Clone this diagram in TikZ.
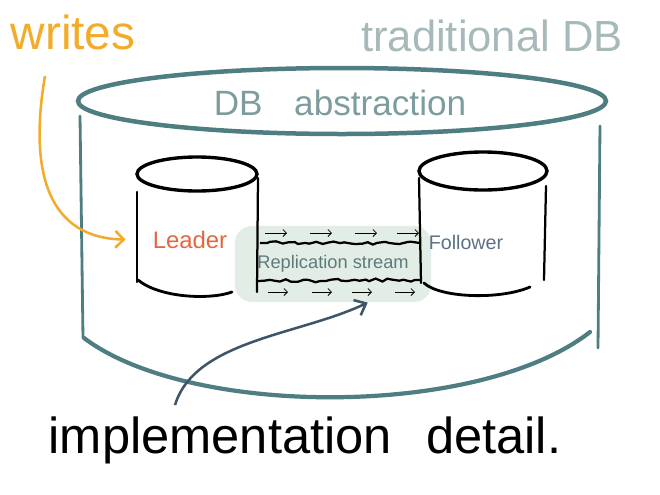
\documentclass[tikz,border=0pt]{standalone}
\usepackage{fontspec}
\setmainfont{Liberation Sans}
\usetikzlibrary{arrows.meta,decorations.pathmorphing}

\definecolor{writesorange}{HTML}{F2AC2A}
\definecolor{tradgray}{HTML}{A7B9B9}
\definecolor{dbteal}{HTML}{4F7E82}
\definecolor{abstrgray}{HTML}{7D9C9E}
\definecolor{leaderred}{HTML}{E2673F}
\definecolor{followerblue}{HTML}{5C7087}
\definecolor{streamgreen}{HTML}{E2EEE5}
\definecolor{streamtext}{HTML}{5E7A7C}
\definecolor{arrowslate}{HTML}{3E5569}

\tikzset{
  outerdb/.style={dbteal, line cap=round},
  dbcan/.style={black, line cap=round},
  wavy/.style={black, line width=1.6pt, decorate,
    decoration={random steps, segment length=4pt, amplitude=1.2pt}},
  tinyarrow/.style={black, line width=0.6pt, -{Straight Barb[length=2.5pt]}},
}

\begin{document}
\begin{tikzpicture}[x=0.025cm, y=-0.025cm, style=thick]
    \useasboundingbox (0,0) rectangle (660,495);

    % the traditional DB
    \draw[outerdb, line width=3.2pt] (342,101) ellipse (264 and 33);
    \draw[outerdb, line width=2pt] (80,116) -- (83,338);
    \draw[outerdb, line width=2pt] (600,126) -- (598,348);
    \draw[outerdb, line width=3pt] (84,338) .. controls (190,418) and (480,418) .. (590,332);

    % replication stream
    \node[fill=streamgreen, rounded corners=12pt, minimum width=4.9cm,
      minimum height=1.9cm, text=streamtext,
      font=\fontsize{13}{15}\selectfont] (stream) at (333,264) {Replication stream};
    \draw[wavy] (260,243) -- (420,243);
    \draw[wavy] (258,281) -- (420,280);
    \foreach \x in {265,310,355,397}{
        \draw[tinyarrow] (\x,233) -- ++(22,0);
      }
    \foreach \x in {268,312,352,395}{
        \draw[tinyarrow] (\x,292) -- ++(20,0);
      }

    % leader and follower
    \draw[dbcan, line width=2.4pt] (197,174) ellipse (60 and 17);
    \draw[dbcan, line width=1.6pt] (137,192) -- (137,282);
    \draw[dbcan, line width=1.6pt] (258,178) -- (257,292);
    \draw[dbcan, line width=2pt] (138,280) .. controls (160,298) and (210,300) .. (232,292);

    \draw[dbcan, line width=2.4pt] (483,171) ellipse (64 and 19);
    \draw[dbcan, line width=1.6pt] (419,178) -- (421,283);
    \draw[dbcan, line width=1.6pt] (546,186) -- (544,280);
    \draw[dbcan, line width=2pt] (424,283) .. controls (440,298) and (500,300) .. (530,287);

    \node[text=writesorange, font=\fontsize{34}{36}\selectfont] (writes) at (73,32) {writes};
    \node[text=tradgray, font=\fontsize{31}{33}\selectfont] (traditional) at (492,36) {traditional DB};
    \node[text=abstrgray, font=\fontsize{25}{27}\selectfont] (abstraction) at (340,103) {DB\hspace{0.9em}abstraction};
    \node[text=leaderred, font=\fontsize{17}{19}\selectfont] (leader) at (190,240) {Leader};
    \node[text=followerblue, font=\fontsize{14}{16}\selectfont] (follower) at (466,242) {Follower};
    \node[font=\fontsize{36}{40}\selectfont] (impl) at (305,440) {implementation\hspace{0.4em} detail.};

    \coordinate (writesfrom) at (45,76);
    \draw[writesorange, line width=1.8pt, -{Straight Barb[length=6pt,width=12pt]},
      shorten >=0.55cm] (writesfrom) .. controls (28,175) and (50,238) .. (leader.west);
    \coordinate (implfrom) at (175,405);
    \draw[arrowslate, line width=1.8pt, -{Straight Barb[length=7pt,width=12pt]}]
      (implfrom) .. controls (195,340) and (300,335) .. (stream.-48);
  \end{tikzpicture}
\end{document}
